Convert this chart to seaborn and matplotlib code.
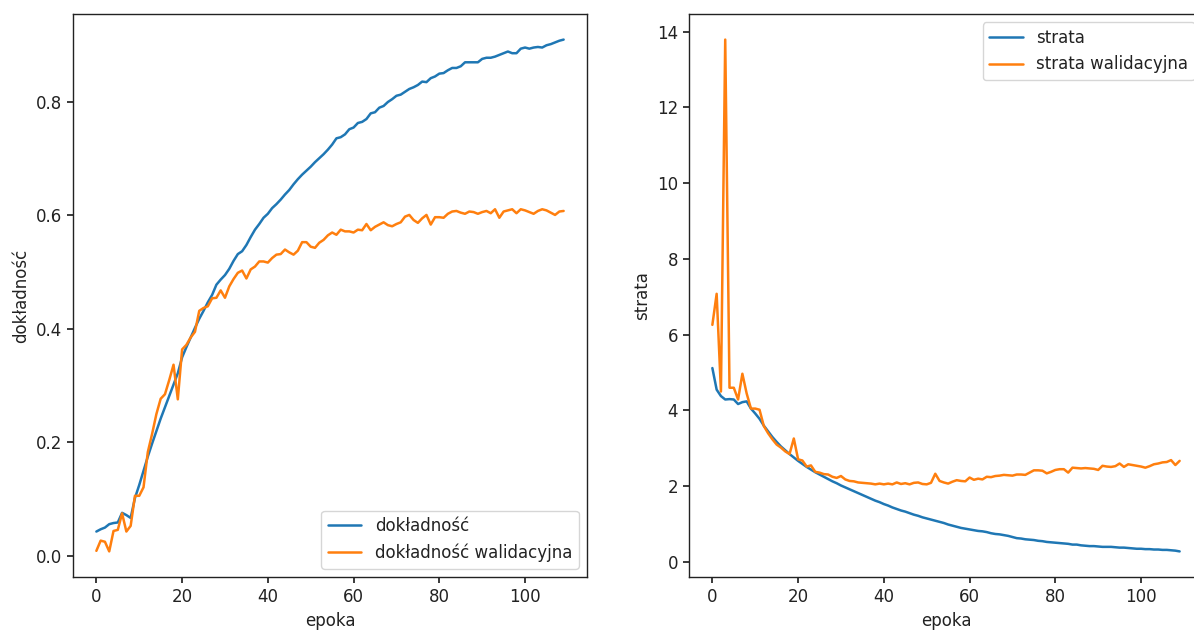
import numpy as np
import pandas as pd
import matplotlib
matplotlib.use("Agg")
import matplotlib.pyplot as plt
import seaborn as sns

epochs = list(range(110))

accuracy = [
    0.043, 0.047, 0.050, 0.056, 0.058, 0.059, 0.076, 0.072, 0.067, 0.102,
    0.125, 0.150, 0.175, 0.198, 0.220, 0.242, 0.262, 0.282, 0.302, 0.322,
    0.350, 0.368, 0.385, 0.402, 0.418, 0.432, 0.447, 0.460, 0.478, 0.487,
    0.495, 0.506, 0.520, 0.532, 0.537, 0.548, 0.562, 0.575, 0.585, 0.596,
    0.603, 0.613, 0.620, 0.628, 0.637, 0.645, 0.655, 0.664, 0.672, 0.679,
    0.686, 0.694, 0.701, 0.708, 0.716, 0.725, 0.736, 0.738, 0.743, 0.752,
    0.755, 0.763, 0.765, 0.770, 0.780, 0.782, 0.790, 0.793, 0.800, 0.805,
    0.811, 0.813, 0.818, 0.823, 0.826, 0.830, 0.836, 0.835, 0.842, 0.845,
    0.850, 0.851, 0.856, 0.860, 0.860, 0.863, 0.870, 0.870, 0.870, 0.870,
    0.876, 0.878, 0.878, 0.880, 0.883, 0.886, 0.889, 0.886, 0.886, 0.894,
    0.896, 0.894, 0.896, 0.897, 0.896, 0.900, 0.902, 0.905, 0.908, 0.910,
]

val_accuracy = [
    0.009, 0.027, 0.025, 0.008, 0.044, 0.046, 0.075, 0.043, 0.053, 0.106,
    0.106, 0.121, 0.183, 0.215, 0.250, 0.277, 0.285, 0.310, 0.337, 0.276,
    0.364, 0.372, 0.385, 0.395, 0.432, 0.437, 0.440, 0.454, 0.455, 0.468,
    0.455, 0.475, 0.488, 0.499, 0.503, 0.489, 0.505, 0.510, 0.519, 0.519,
    0.517, 0.525, 0.531, 0.532, 0.540, 0.535, 0.531, 0.538, 0.553, 0.553,
    0.545, 0.543, 0.552, 0.557, 0.565, 0.570, 0.566, 0.575, 0.572, 0.572,
    0.570, 0.575, 0.574, 0.585, 0.574, 0.580, 0.584, 0.588, 0.583, 0.581,
    0.585, 0.588, 0.598, 0.601, 0.592, 0.587, 0.595, 0.601, 0.584, 0.597,
    0.597, 0.596, 0.603, 0.607, 0.608, 0.605, 0.603, 0.607, 0.606, 0.603,
    0.606, 0.608, 0.604, 0.611, 0.596, 0.607, 0.609, 0.611, 0.604, 0.611,
    0.609, 0.606, 0.603, 0.608, 0.611, 0.609, 0.605, 0.601, 0.607, 0.608,
]

loss = [
    5.12, 4.55, 4.38, 4.29, 4.30, 4.29, 4.17, 4.22, 4.24, 4.05,
    3.92, 3.78, 3.60, 3.45, 3.30, 3.17, 3.05, 2.95, 2.85, 2.76,
    2.67, 2.59, 2.51, 2.44, 2.37, 2.31, 2.25, 2.19, 2.13, 2.08,
    2.02, 1.97, 1.92, 1.87, 1.82, 1.77, 1.72, 1.67, 1.62, 1.58,
    1.53, 1.49, 1.44, 1.40, 1.36, 1.33, 1.29, 1.25, 1.22, 1.18,
    1.15, 1.12, 1.09, 1.06, 1.03, 0.99, 0.96, 0.93, 0.90, 0.88,
    0.86, 0.84, 0.82, 0.81, 0.79, 0.76, 0.74, 0.73, 0.71, 0.69,
    0.66, 0.63, 0.62, 0.60, 0.59, 0.58, 0.56, 0.55, 0.53, 0.52,
    0.51, 0.50, 0.49, 0.48, 0.46, 0.46, 0.44, 0.43, 0.42, 0.42,
    0.41, 0.40, 0.40, 0.40, 0.39, 0.38, 0.38, 0.37, 0.36, 0.35,
    0.35, 0.34, 0.34, 0.33, 0.33, 0.32, 0.32, 0.31, 0.30, 0.28,
]

val_loss = [
    6.26, 7.08, 4.50, 13.79, 4.60, 4.60, 4.29, 4.97, 4.45, 4.05,
    4.05, 4.02, 3.59, 3.40, 3.24, 3.10, 3.02, 2.92, 2.85, 3.26,
    2.71, 2.68, 2.52, 2.55, 2.38, 2.36, 2.32, 2.31, 2.25, 2.22,
    2.27, 2.18, 2.14, 2.13, 2.10, 2.09, 2.08, 2.07, 2.05, 2.07,
    2.05, 2.07, 2.05, 2.10, 2.06, 2.08, 2.05, 2.09, 2.10, 2.06,
    2.05, 2.09, 2.33, 2.14, 2.10, 2.07, 2.12, 2.16, 2.14, 2.13,
    2.23, 2.17, 2.20, 2.18, 2.25, 2.24, 2.27, 2.28, 2.30, 2.29,
    2.28, 2.31, 2.31, 2.30, 2.36, 2.42, 2.42, 2.41, 2.34, 2.38,
    2.43, 2.45, 2.45, 2.36, 2.49, 2.48, 2.47, 2.48, 2.47, 2.46,
    2.43, 2.54, 2.52, 2.51, 2.53, 2.60, 2.51, 2.58, 2.56, 2.54,
    2.52, 2.49, 2.53, 2.58, 2.60, 2.63, 2.64, 2.69, 2.56, 2.67,
]

acc_labels = ["dokładność", "dokładność walidacyjna"]
loss_labels = ["strata", "strata walidacyjna"]
colors = ["#1f77b4", "#ff7f0e"]

FS = 12
sns.set_theme(style="white")
plt.rcParams.update({
    "font.family": ["DejaVu Sans"],
    "font.size": FS,
    "axes.edgecolor": "#222222",
    "axes.linewidth": 1.0,
    "xtick.bottom": True,
    "ytick.left": True,
    "xtick.major.size": 4.5,
    "ytick.major.size": 4.5,
    "xtick.color": "#222222",
    "ytick.color": "#222222",
    "xtick.labelsize": FS,
    "ytick.labelsize": FS,
    "axes.labelsize": FS,
    "legend.fontsize": FS,
    "text.color": "#222222",
    "axes.labelcolor": "#222222",
})

fig = plt.figure(figsize=(11.94, 6.30), dpi=100)
ax1 = fig.add_axes([73 / 1194, 53 / 630, 514 / 1194, 563 / 630])
ax2 = fig.add_axes([689 / 1194, 53 / 630, 514 / 1194, 563 / 630])

df_acc = pd.DataFrame({
    "epoka": epochs * 2,
    "value": accuracy + val_accuracy,
    "series": [acc_labels[0]] * len(epochs) + [acc_labels[1]] * len(epochs),
})
df_loss = pd.DataFrame({
    "epoka": epochs * 2,
    "value": loss + val_loss,
    "series": [loss_labels[0]] * len(epochs) + [loss_labels[1]] * len(epochs),
})

sns.lineplot(data=df_acc, x="epoka", y="value", hue="series", hue_order=acc_labels,
             palette=colors, linewidth=1.8, ax=ax1)
sns.lineplot(data=df_loss, x="epoka", y="value", hue="series", hue_order=loss_labels,
             palette=colors, linewidth=1.8, ax=ax2)

ax1.set_xlabel("epoka")
ax1.set_ylabel("dokładność")
ax2.set_xlabel("epoka")
ax2.set_ylabel("strata")

ax1.set_yticks([0.0, 0.2, 0.4, 0.6, 0.8])
ax2.set_yticks([0, 2, 4, 6, 8, 10, 12, 14])
for ax in (ax1, ax2):
    ax.set_xticks([0, 20, 40, 60, 80, 100])
    for s in ax.spines.values():
        s.set_visible(True)

ax1.legend(loc="lower right", title=None, frameon=True)
ax2.legend(loc="upper right", title=None, frameon=True)

fig.savefig("out.png", dpi=100)
